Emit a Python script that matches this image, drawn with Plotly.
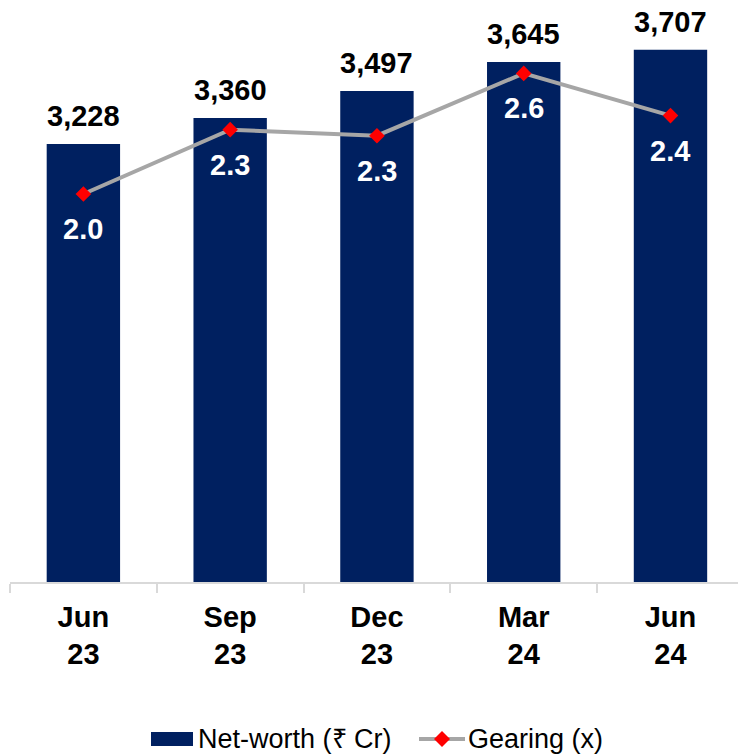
import plotly.graph_objects as go

# Quarter-end periods, net-worth (₹ Cr) and gearing (x)
periods = ["Jun<br>23", "Sep<br>23", "Dec<br>23", "Mar<br>24", "Jun<br>24"]
net_worth = [3228, 3360, 3497, 3645, 3707]
gearing = [2.00, 2.32, 2.29, 2.60, 2.39]

NAVY = "#002060"
GREY = "#A6A6A6"
RED = "#FF0000"
FONT = "Arial, Liberation Sans, sans-serif"

W, H = 738, 755
ML, MR, MT, MB = 10, 0, 0, 173
PW, PH = W - ML - MR, H - MT - MB

fig = go.Figure()
fig.add_bar(
    x=periods, y=net_worth, width=0.5, marker=dict(color=NAVY, line=dict(width=0)),
    yaxis="y", hoverinfo="skip",
)
fig.add_scatter(
    x=periods, y=gearing, yaxis="y2", mode="lines+markers",
    line=dict(color=GREY, width=4),
    marker=dict(symbol="diamond", size=12, color=RED),
    cliponaxis=False, hoverinfo="skip",
)

annotations = []
for p, v in zip(periods, net_worth):
    annotations.append(dict(
        x=p, y=v, xref="x", yref="y", text=f"{v:,}", showarrow=False,
        yanchor="bottom", yshift=10,
        font=dict(family=FONT, size=29, color="black", weight="bold"),
    ))
for p, g in zip(periods, gearing):
    annotations.append(dict(
        x=p, y=g, xref="x", yref="y2", text=f"{g:.1f}", showarrow=False,
        yanchor="middle", yshift=-35,
        font=dict(family=FONT, size=29, color="white", weight="bold"),
    ))


def px_x(px):
    return (px - ML) / PW


def px_y(py):
    return (H - MB - py) / PH


# Legend drawn below the axis
leg_y = 739
shapes = [
    dict(type="rect", xref="paper", yref="paper",
         x0=px_x(151), x1=px_x(193), y0=px_y(746), y1=px_y(732),
         fillcolor=NAVY, line=dict(width=0)),
    dict(type="line", xref="paper", yref="paper",
         x0=px_x(419), x1=px_x(465), y0=px_y(leg_y), y1=px_y(leg_y),
         line=dict(color=GREY, width=4)),
    dict(type="path", xref="paper", yref="paper",
         path=(f"M {px_x(442 - 8)},{px_y(leg_y)} L {px_x(442)},{px_y(leg_y - 8)} "
               f"L {px_x(442 + 8)},{px_y(leg_y)} L {px_x(442)},{px_y(leg_y + 8)} Z"),
         fillcolor=RED, line=dict(width=0)),
]
annotations += [
    dict(x=px_x(196), y=px_y(leg_y), xref="paper", yref="paper", text="Net-worth (₹ Cr)",
         showarrow=False, xanchor="left", yanchor="middle",
         font=dict(family=FONT, size=27, color="black")),
    dict(x=px_x(466), y=px_y(leg_y), xref="paper", yref="paper", text="Gearing (x)",
         showarrow=False, xanchor="left", yanchor="middle",
         font=dict(family=FONT, size=27, color="black")),
]

fig.update_layout(
    width=W, height=H,
    margin=dict(l=ML, r=MR, t=MT, b=MB),
    paper_bgcolor="white", plot_bgcolor="white",
    showlegend=False,
    xaxis=dict(
        range=[-0.5, 4.46], showline=True, linecolor="#D9D9D9", linewidth=1.5,
        ticks="outside", tickson="boundaries", ticklen=9, tickcolor="#D9D9D9", tickwidth=1.5,
        ticklabelstandoff=8,
        tickfont=dict(family=FONT, size=29, color="black", weight="bold"),
        showgrid=False, zeroline=False, fixedrange=True,
    ),
    yaxis=dict(range=[1000, 3960], visible=False, showgrid=False, fixedrange=True),
    yaxis2=dict(range=[0.07, 2.965], overlaying="y", visible=False, showgrid=False, fixedrange=True),
    shapes=shapes,
    annotations=annotations,
)

fig.write_html("out.html")
